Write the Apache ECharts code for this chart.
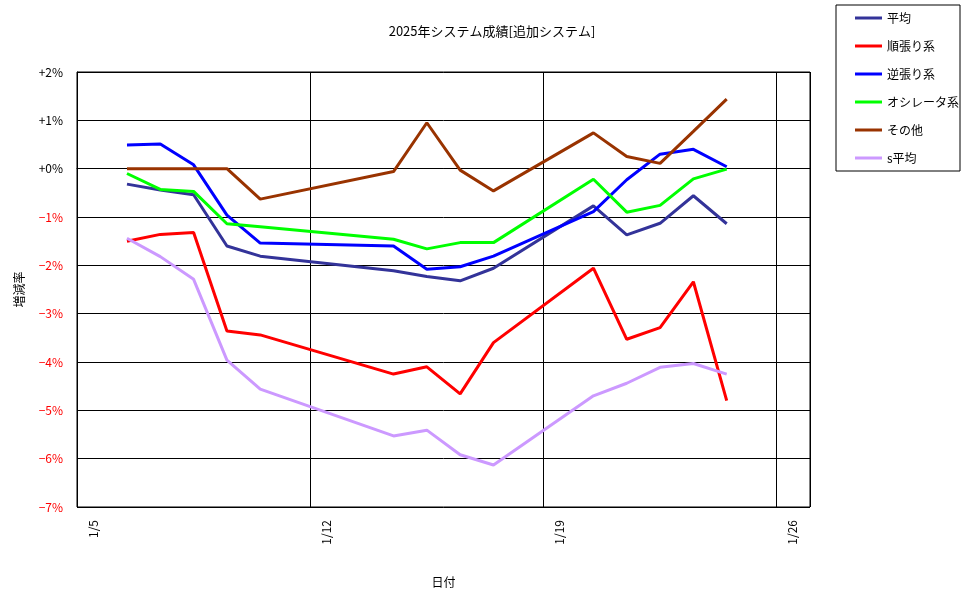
<!DOCTYPE html>
<html>
<head>
<meta charset="utf-8">
<script src="https://cdn.jsdelivr.net/npm/echarts@6/dist/echarts.min.js"></script>
<style>
html, body { margin: 0; padding: 0; background: #fff; }
#chart { width: 976px; height: 599px; }
</style>
</head>
<body>
<div id="chart"></div>
<script>
// trading days (values are closing figures, plotted at midday)
var dates = ['1/6', '1/7', '1/8', '1/9', '1/10', '1/14', '1/15', '1/16', '1/17', '1/20', '1/21', '1/22', '1/23', '1/24'];

var heikin   = [-0.32, -0.44, -0.54, -1.60, -1.81, -2.11, -2.23, -2.32, -2.06, -0.77, -1.37, -1.13, -0.56, -1.14];
var junbari  = [-1.50, -1.36, -1.32, -3.36, -3.44, -4.25, -4.10, -4.66, -3.60, -2.06, -3.53, -3.29, -2.34, -4.80];
var gyakubari = [0.49, 0.51, 0.08, -0.96, -1.54, -1.60, -2.08, -2.03, -1.81, -0.89, -0.23, 0.30, 0.40, 0.04];
var oscillator = [-0.10, -0.43, -0.47, -1.14, -1.20, -1.46, -1.66, -1.53, -1.53, -0.22, -0.90, -0.76, -0.21, -0.01];
var sonota   = [0, 0, 0, 0, -0.63, -0.06, 0.95, -0.03, -0.46, 0.74, 0.25, 0.11, 0.77, 1.44];
var sHeikin  = [-1.44, -1.82, -2.29, -3.96, -4.56, -5.53, -5.41, -5.92, -6.13, -4.70, -4.44, -4.11, -4.03, -4.25];

var seriesNames = ['平均', '順張り系', '逆張り系', 'オシレータ系', 'その他', 's平均'];
var seriesColors = ['#333399', '#ff0000', '#0000ff', '#00ff00', '#993300', '#cc99ff'];
var seriesValues = [heikin, junbari, gyakubari, oscillator, sonota, sHeikin];

var startDay = 5; // axis starts at 1/5
var font = '"Noto Sans CJK JP", sans-serif';

function dayPos(d) {
    return parseInt(d.split('/')[1], 10) - startDay + 0.5;
}

var chart = echarts.init(document.getElementById('chart'));

var series = [];
for (var i = 0; i < seriesNames.length; i++) {
    series.push({
        name: seriesNames[i],
        type: 'line',
        symbol: 'none',
        color: seriesColors[i],
        lineStyle: { width: 3, color: seriesColors[i] },
        animation: false,
        data: dates.map(function (d, j) { return [dayPos(d), seriesValues[i][j]]; })
    });
}

var option = {
    backgroundColor: '#fff',
    textStyle: { fontFamily: font },
    title: {
        text: '2025年システム成績[追加システム]',
        left: 487,
        top: 20,
        textAlign: 'center',
        textStyle: { fontSize: 13, fontWeight: 'normal', color: '#000', fontFamily: font }
    },
    legend: {
        orient: 'vertical',
        left: 836,
        top: 5,
        padding: [6, 1, 6, 19],
        itemGap: 14,
        itemWidth: 27,
        itemHeight: 3,
        icon: 'rect',
        borderColor: '#000',
        borderWidth: 1,
        textStyle: { fontSize: 12, lineHeight: 14, color: '#000', fontFamily: font },
        data: seriesNames
    },
    grid: {
        left: 77,
        top: 72,
        right: 166,
        bottom: 92,
        show: true,
        borderColor: '#000',
        borderWidth: 1
    },
    xAxis: {
        type: 'value',
        min: 0,
        max: 22,
        interval: 7,
        name: '日付',
        nameLocation: 'middle',
        nameGap: 69,
        nameTextStyle: { fontSize: 12, color: '#000' },
        axisLine: { show: true, lineStyle: { color: '#000' } },
        axisTick: { show: false },
        splitLine: { show: true, lineStyle: { color: '#000', width: 1 } },
        axisLabel: {
            rotate: 90,
            margin: 13,
            verticalAlign: 'top',
            padding: [10, 0, 0, 0],
            fontSize: 12,
            color: '#000',
            formatter: function (v) {
                if (v % 7 !== 0) return '';
                return '1/' + (v + startDay);
            }
        }
    },
    yAxis: {
        type: 'value',
        min: -7,
        max: 2,
        interval: 1,
        name: '増減率',
        nameLocation: 'middle',
        nameRotate: 90,
        nameGap: 52,
        nameTextStyle: { fontSize: 12, color: '#000' },
        axisLine: { show: true, lineStyle: { color: '#000' } },
        axisTick: { show: false },
        splitLine: { show: true, lineStyle: { color: '#000', width: 1 } },
        axisLabel: {
            margin: 14,
            fontSize: 12,
            color: function (v) { return v < 0 ? '#ff0000' : '#000'; },
            formatter: function (v) {
                if (v < 0) return '\u2212' + Math.abs(v) + '%';
                return '+' + v + '%';
            }
        }
    },
    series: series
};

chart.setOption(option);
</script>
</body>
</html>
